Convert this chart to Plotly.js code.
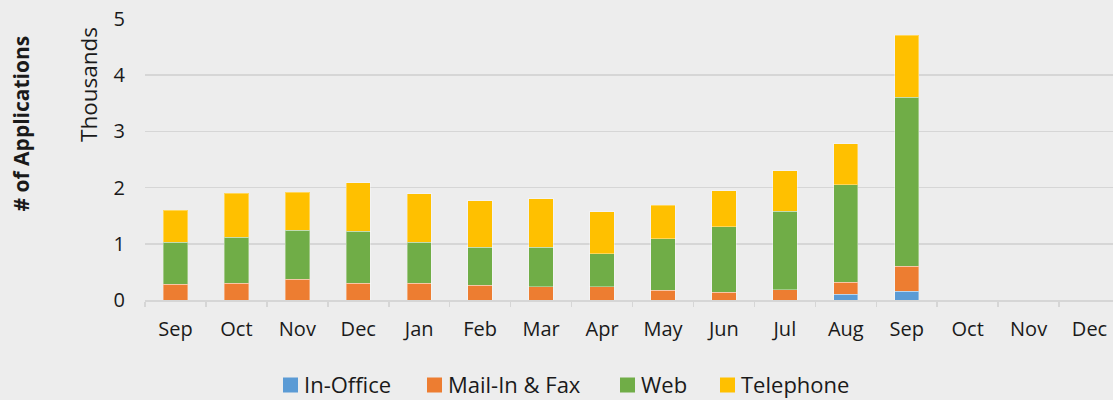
<!DOCTYPE html>
<html>
<head>
<meta charset="utf-8">
<script src="https://cdn.plot.ly/plotly-3.0.1.min.js"></script>
<style>
html,body{margin:0;padding:0;background:#ededed;overflow:hidden;width:1113px;height:400px;}
#chart{width:1121px;height:400px;}
</style>
</head>
<body>
<div id="chart"></div>
<script>
// Months (Sep of one year through Dec of the next); values in thousands of applications
const months = ["Sep","Oct","Nov","Dec","Jan","Feb","Mar","Apr","May","Jun","Jul","Aug","Sep","Oct","Nov","Dec"];
const inOffice  = [0,    0,    0,    0,    0,    0,    0,    0,    0,    0,    0,    0.10, 0.16, null, null, null];
const mailInFax = [0.28, 0.30, 0.37, 0.30, 0.30, 0.26, 0.24, 0.24, 0.17, 0.14, 0.18, 0.22, 0.44, null, null, null];
const web       = [0.75, 0.82, 0.87, 0.92, 0.73, 0.68, 0.70, 0.58, 0.92, 1.16, 1.40, 1.73, 3.01, null, null, null];
const telephone = [0.57, 0.78, 0.68, 0.87, 0.86, 0.83, 0.86, 0.75, 0.60, 0.64, 0.72, 0.73, 1.10, null, null, null];
const seriesNames  = ["In-Office","Mail-In & Fax","Web","Telephone"];
const seriesColors = ["#5b9bd5","#ed7d31","#70ad47","#ffc000"];
const yTicks = [0,1,2,3,4,5];

const xIdx = months.map((m,i)=>i);
const FONT = "'Open Sans', sans-serif";
const TXT = "#1a1a1a";
const edge = {color:"rgba(255,255,255,0.35)", width:1};
const values = [inOffice, mailInFax, web, telephone];

const data = values.map((vals,i)=>({
  type:"bar", name:seriesNames[i], x:xIdx, y:vals,
  marker:{color:seriesColors[i], line:edge}, hoverinfo:"skip", showlegend:false
}));

// plot area geometry (pixels) for placing the hand-built legend
const PL = 145, PW = 975, PB = 300, PH = 281;
const px2x = p => (p - PL) / PW;
const py2y = p => (PB - p) / PH;
const legendSquareLeft = [283, 427, 620, 720];   // layout positions of legend swatches
const SQ = 15, LEG_Y = 385;

const shapes = [], annotations = [];
seriesNames.forEach((n,i)=>{
  const x0 = legendSquareLeft[i];
  shapes.push({type:"rect", xref:"paper", yref:"paper",
    x0:px2x(x0), x1:px2x(x0+SQ), y0:py2y(LEG_Y-SQ/2), y1:py2y(LEG_Y+SQ/2),
    fillcolor:seriesColors[i], line:{width:0}});
  annotations.push({text:n, xref:"paper", yref:"paper", x:px2x(x0+SQ+5), y:py2y(LEG_Y-1.5),
    xanchor:"left", yanchor:"middle", showarrow:false, borderpad:0,
    font:{family:FONT, size:22, color:TXT}});
});

annotations.push(
  {text:"Thousands", xref:"paper", yref:"paper", x:px2x(88), y:py2y(85), xanchor:"center", yanchor:"middle",
   textangle:-90, showarrow:false, font:{family:FONT, size:22.5, color:TXT}},
  {text:"<b># of Applications</b>", xref:"paper", yref:"paper", x:px2x(21), y:py2y(123.5), xanchor:"center", yanchor:"middle",
   textangle:-90, showarrow:false, font:{family:FONT, size:21, color:TXT}}
);

const layout = {
  width:1121, height:400,
  margin:{l:PL, r:1, t:19, b:100},
  paper_bgcolor:"#ededed", plot_bgcolor:"#ededed",
  barmode:"stack", bargap:0.6,
  font:{family:FONT, size:20, color:TXT},
  showlegend:false,
  xaxis:{
    range:[-0.5, 15.5], tickvals:xIdx, ticktext:months, ticks:"", showgrid:false, zeroline:false,
    showline:true, linecolor:"#d6d6d6", linewidth:1.5, ticklabelstandoff:10,
    minor:{tick0:-0.5, dtick:1, ticks:"outside", ticklen:5, tickcolor:"#d6d6d6", tickwidth:1.5, showgrid:false},
    tickfont:{family:FONT, size:20, color:TXT}, fixedrange:true
  },
  yaxis:{
    range:[0,5], tickvals:yTicks, ticktext:yTicks.map(String), showgrid:true, gridcolor:"#d6d6d6", gridwidth:1.5,
    zeroline:false, showline:false, ticks:"", ticklabelstandoff:19,
    tickfont:{family:FONT, size:20, color:TXT}, fixedrange:true
  },
  shapes:shapes,
  annotations:annotations
};

Plotly.newPlot("chart", data, layout, {displayModeBar:false, staticPlot:true});
</script>
</body>
</html>
